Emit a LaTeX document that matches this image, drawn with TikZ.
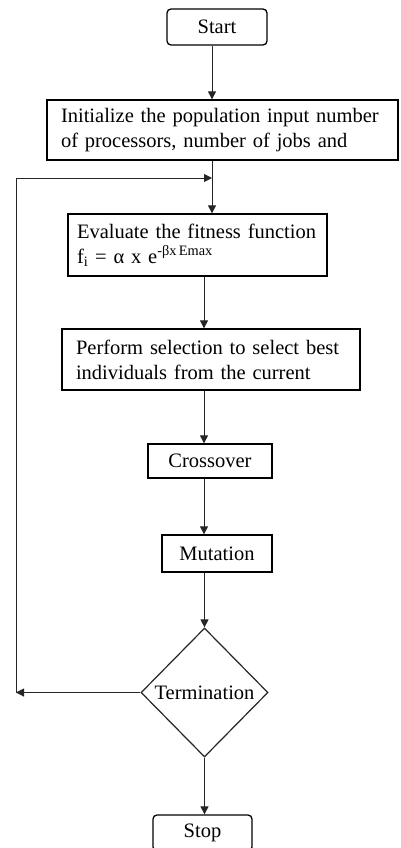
\documentclass[tikz,border=0pt]{standalone}
\usepackage{fontspec}
\setmainfont{Liberation Serif}
\usetikzlibrary{arrows.meta,shapes.geometric}
\begin{document}
\begin{tikzpicture}[x=1pt,y=-1pt,
  every node/.style={font=\fontsize{20.5}{25}\selectfont},
  box/.style={draw=black,line width=1.3pt,inner ysep=0pt},
  lbox/.style={box,align=left},
  rbox/.style={box,rounded corners=4pt,inner sep=0pt},
  arr/.style={draw=black!85,line width=1pt,-{Triangle[length=8pt,width=8pt]}},
  lin/.style={draw=black!85,line width=1.2pt}]
\useasboundingbox (0,0) rectangle (400,848);
\clip (0,0) rectangle (400,848);
\fill[white] (0,0) rectangle (400,848);

\node[rbox,minimum width=100pt,minimum height=36pt] (start) at (217,27) {Start};
\node[lbox,minimum width=351pt,minimum height=60pt,text width=323pt,inner xsep=14pt] (init) at (222.5,130)
  {Initialize the population input number\\of processors, number of jobs and};
\node[lbox,minimum width=259pt,minimum height=62pt,text width=241pt,inner xsep=9pt] (eval) at (197.5,245)
  {Evaluate the fitness function\\f\textsubscript{i} = α x e\textsuperscript{-βx\,Emax}};
\node[lbox,minimum width=298pt,minimum height=61pt,text width=270pt,inner xsep=14pt] (perf) at (211,359.5)
  {Perform selection to select best\\individuals from the current};
\node[box,minimum width=124pt,minimum height=34pt,inner xsep=0pt] (cross) at (210,461) {Crossover};
\node[box,minimum width=110pt,minimum height=37pt,inner xsep=0pt] (mut) at (217,553.5) {Mutation};
\node[draw=black!85,line width=1.2pt,diamond,minimum width=127pt,minimum height=129pt,inner sep=0pt] (term) at (204.5,692.5) {Termination};
\node[rbox,minimum width=99pt,minimum height=36pt] (stop) at (202.5,833) {Stop};

\coordinate (s1) at (212,0);
\coordinate (s2) at (204,0);
\coordinate (lb) at (16,692.5);
\coordinate (lt) at (212,178);

\draw[arr] (start.south -| s1) -- (init.north -| s1);
\draw[arr] (init.south -| s1) -- (eval.north -| s1);
\draw[arr] (eval.south -| s2) -- (perf.north -| s2);
\draw[arr] (perf.south -| s2) -- (cross.north -| s2);
\draw[arr] (cross.south -| s2) -- (mut.north -| s2);
\draw[arr] (mut.south -| term.north) -- (term.north);
\draw[arr] (term.south) -- (stop.north -| term.south);
\draw[arr] (term.west) -- (lb);
\draw[arr] (lb) |- (lt);
\end{tikzpicture}
\end{document}
